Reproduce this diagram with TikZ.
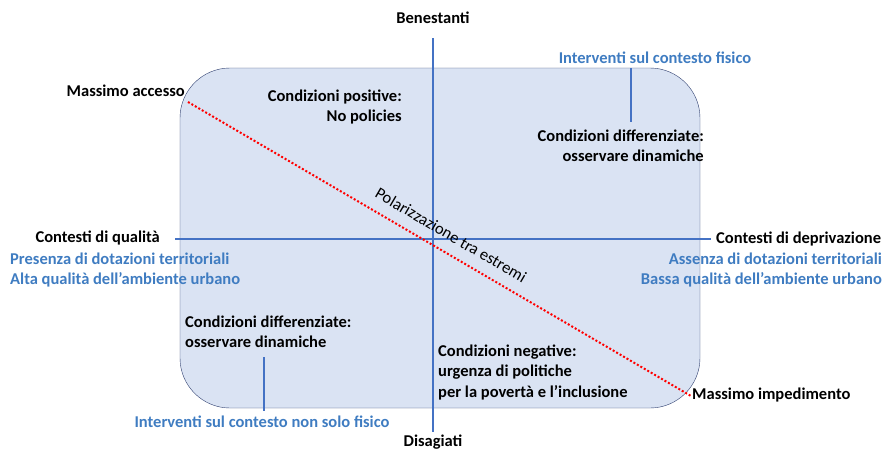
\documentclass[tikz,border=0pt]{standalone}
\usepackage{fontspec}
\setmainfont{Carlito}
\usetikzlibrary{positioning}
\definecolor{boxfill}{HTML}{DAE3F3}
\definecolor{boxline}{HTML}{2F3F6F}
\definecolor{axisblue}{HTML}{4472C4}
\definecolor{textblue}{HTML}{3F7CC1}

\begin{document}
\begin{tikzpicture}[x=1pt,y=-1pt,
  every node/.style={font=\fontsize{16.5}{20.5}\selectfont\bfseries, inner sep=0pt},
  blu/.style={text=textblue},
  ax/.style={axisblue, line width=1.6pt},
  polar/.style={red, line width=2pt, dash pattern=on 2pt off 2pt}]
\useasboundingbox (0,0) rectangle (887,450);

\draw[boxline, fill=boxfill, rounded corners=50pt] (180,68) rectangle (700,408);

\coordinate (vtop) at (433,38);
\coordinate (vbot) at (433,432);
\coordinate (hl) at (175,239);
\coordinate (hr) at (711,239);
\draw[ax] (vtop) -- (vbot);
\draw[ax] (hl) -- (hr);

\draw (433,18)  node (nord) {Benestanti};
\draw (433,442) node (sud)  {Disagiati};
\draw (160,238) node (ovest) [anchor=east] {Contesti di qualità};
\draw (716,239) node (est)   [anchor=west] {Contesti di deprivazione};

\draw (10,270)  node (ovestb) [blu, anchor=west, align=left]
  {Presenza di dotazioni territoriali\\Alta qualità dell’ambiente urbano};
\draw (882,270) node (estb)   [blu, anchor=east, align=right]
  {Assenza di dotazioni territoriali\\Bassa qualità dell’ambiente urbano};

% quadranti
\draw (402,107) node (q1) [anchor=east, align=right] {Condizioni positive:\\No policies};
\draw (704,146) node (q2) [anchor=east, align=right] {Condizioni differenziate:\\osservare dinamiche};
\draw (185,332) node (q3) [anchor=west, align=left] {Condizioni differenziate:\\osservare dinamiche};
\draw (438,372) node (q4) [anchor=west, align=left] {Condizioni negative:\\urgenza di politiche\\per la povertà e l’inclusione};

% interventi
\draw (655,58)  node (int1) [blu] {Interventi sul contesto fisico};
\draw (262,422) node (int2) [blu] {Interventi sul contesto non solo fisico};
\coordinate (t1a) at (631,68);
\coordinate (t1b) at (631,122);
\coordinate (t2a) at (264,357);
\coordinate (t2b) at (264,411);
\draw[ax] (t1a) -- (t1b);
\draw[ax] (t2a) -- (t2b);

% estremi
\draw (185,91)  node (max1) [anchor=east] {Massimo accesso};
\draw (692,395) node (max2) [anchor=west] {Massimo impedimento};
\coordinate (p1) at (188,102);
\coordinate (p2) at (691,396);
\draw[polar] (p1) -- (p2);
\draw (451,235) node (pol) [rotate=-30.3, font=\fontsize{16.5}{18}\selectfont] {Polarizzazione tra estremi};
\end{tikzpicture}
\end{document}
